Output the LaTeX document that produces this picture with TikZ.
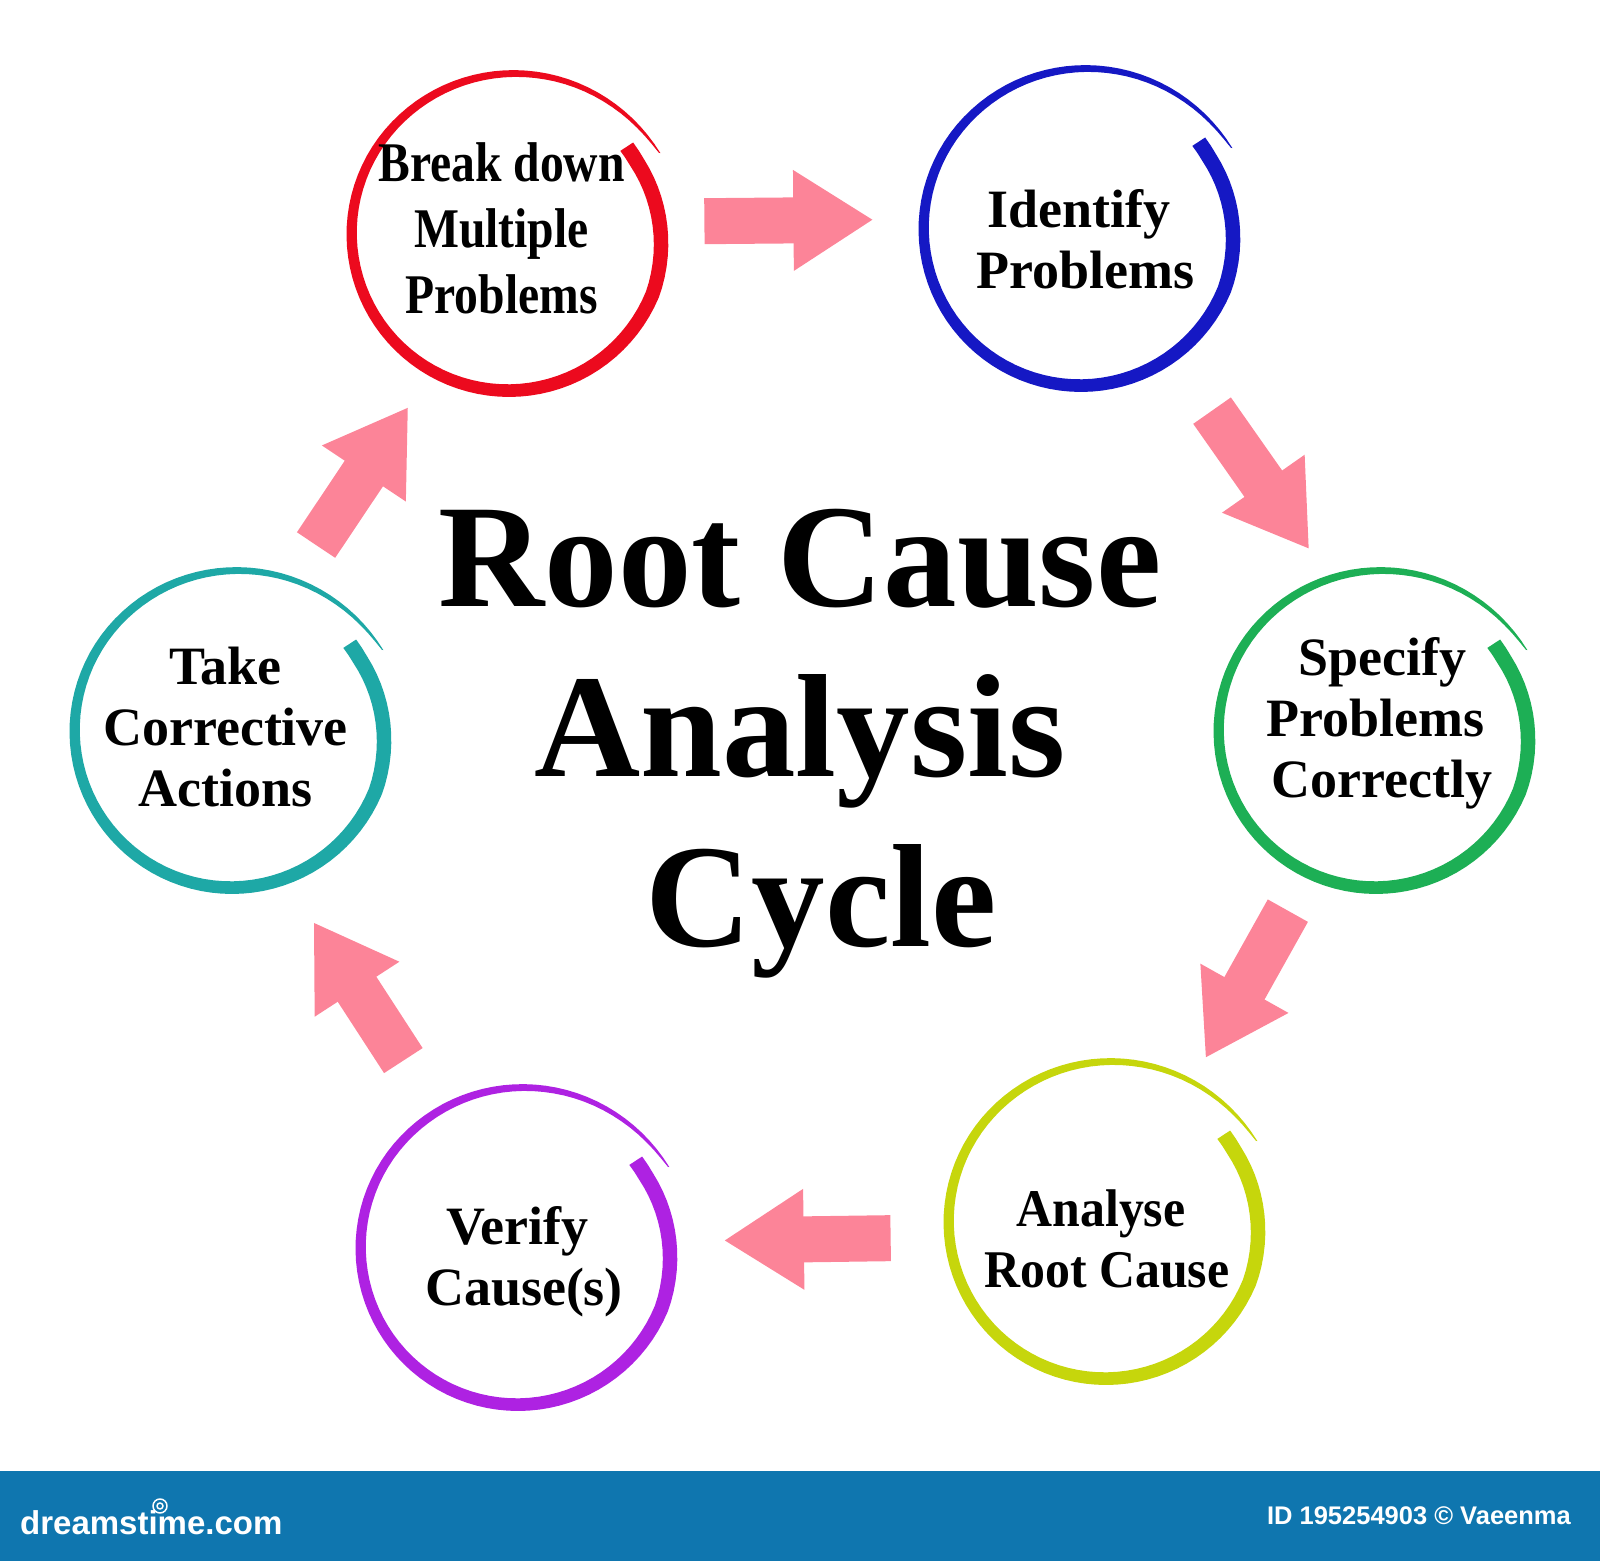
\documentclass[tikz,border=0pt]{standalone}
\usepackage{fontspec}
\usetikzlibrary{arrows.meta}
\setmainfont{Liberation Serif}
\setsansfont{Liberation Sans}
\newfontfamily\narrowserif[FakeStretch=0.85]{Liberation Serif}
\newfontfamily\tightserif[FakeStretch=0.94]{Liberation Serif}
\definecolor{ringred}{HTML}{EC0A1E}
\definecolor{ringblue}{HTML}{1518C4}
\definecolor{ringgreen}{HTML}{1DAF55}
\definecolor{ringyellow}{HTML}{C6D60C}
\definecolor{ringpurple}{HTML}{AE22E2}
\definecolor{ringteal}{HTML}{1EA8A6}
\definecolor{arrowpink}{HTML}{FC8498}
\definecolor{bandblue}{HTML}{0F76AF}
\tikzset{
  declare function={
    ringo(\s)=162.5+9.5*max(0,1-\s/.3)*max(0,1-\s/.3)-8*min(1,max(0,(\s-.84)/.14));
    ringw(\s)=15.3*pow(\s,.45);
  },
  ring/.style={circle,minimum size=320bp,inner sep=0pt,outer sep=0pt},
  steplabel/.style={align=center,inner sep=0pt,font=\fontsize{54bp}{61bp}\selectfont\bfseries},
  titlelabel/.style={align=center,inner sep=0pt,font=\fontsize{147bp}{170bp}\selectfont\bfseries},
  flow/.style={draw=arrowpink,line width=46bp,-{Triangle[width=95bp,length=80bp,fill=arrowpink]}},
}
\newcommand{\ringstroke}[2]{%
  \fill[#2,shift={(#1.center)},xshift=2bp,yshift=1bp]
    plot[domain=.002:1,samples=100] ({27.5+369.4*\x}:{ringo(\x)})
    -- plot[domain=1:.002,samples=100] ({27.5+369.4*\x}:{ringo(\x)-ringw(\x)}) -- cycle;
}
\begin{document}
\begin{tikzpicture}[x=1bp,y=1bp,line join=bevel]
\useasboundingbox (0,0) rectangle (1600,1561);
%%
\node (ring_1) at (507bp,1325.5bp) [ring] {};
\node (ring_2) at (1079bp,1330.5bp) [ring] {};
\node (ring_3) at (1374bp,828.5bp) [ring] {};
\node (ring_4) at (1104bp,337.5bp) [ring] {};
\node (ring_5) at (516bp,311.5bp) [ring] {};
\node (ring_6) at (230bp,828.5bp) [ring] {};
\ringstroke{ring_1}{ringred}
\ringstroke{ring_2}{ringblue}
\ringstroke{ring_3}{ringgreen}
\ringstroke{ring_4}{ringyellow}
\ringstroke{ring_5}{ringpurple}
\ringstroke{ring_6}{ringteal}
%
\node (label_1) at (501.5bp,1333bp) [steplabel,font=\fontsize{56bp}{66bp}\narrowserif\bfseries] {Break down\\Multiple\\Problems};
\node (label_2) at (1085.5bp,1322bp) [steplabel] {Identify\hspace*{14bp}\\Problems};
\node (label_3) at (1375bp,838bp) [steplabel] {\hspace*{14bp}Specify\\Problems\hspace*{14bp}\\\hspace*{14bp}Correctly};
\node (label_4) at (1107bp,322bp) [steplabel,font=\fontsize{53bp}{61bp}\tightserif\bfseries] {Analyse\hspace*{12bp}\\Root Cause};
\node (label_5) at (524bp,299.5bp) [steplabel] {Verify\hspace*{14bp}\\Cause(s)};
\node (label_6) at (225.5bp,833.5bp) [steplabel] {Take\\Corrective\\Actions};
\node (title) at (800bp,817bp) [titlelabel] {Root Cause\\Analysis\\\hspace*{42bp}Cycle};
%
\draw [flow,shorten <=38bp,shorten >=46bp] (ring_1.5.2) -- (ring_2.176.6);
\draw [flow,shorten <=64bp,shorten >=36bp] (ring_2.-53.4) -- (ring_3.106.8);
\draw [flow,shorten <=38bp,shorten >=34bp] (ring_3.245.7) -- (ring_4.58.4);
\draw [flow,shorten <=54bp,shorten >=48bp] (ring_4.185) -- (ring_5.3.6);
\draw [flow,shorten <=60bp,shorten >=48bp] (ring_5.120.3) -- (ring_6.-69.6);
\draw [flow,shorten <=47bp,shorten >=38bp] (ring_6.68.1) -- (ring_1.241.7);
%
\fill [bandblue] (0,0) rectangle (1600,90);
\node (brand) at (20bp,38bp) [anchor=west,inner sep=0pt,text=white,font=\fontsize{33bp}{33bp}\sffamily\bfseries] {dreamstime.com};
\draw [white,line width=1.5bp] (160bp,55bp) circle (7bp) (160bp,55bp) circle (3bp);
\node (credit) at (1571bp,45bp) [anchor=east,inner sep=0pt,text=white,font=\fontsize{25.5bp}{25.5bp}\sffamily\bfseries] {ID 195254903 © Vaeenma};
%
\end{tikzpicture}
\end{document}
